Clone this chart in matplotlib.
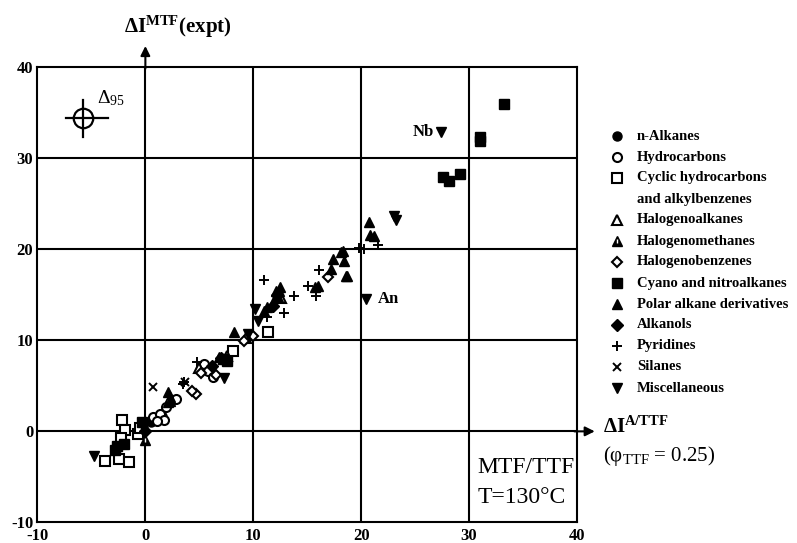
import matplotlib.pyplot as plt

plt.rcParams["font.family"] = ["Liberation Serif", "DejaVu Serif"]
plt.rcParams["mathtext.fontset"] = "custom"
plt.rcParams["mathtext.rm"] = "Liberation Serif"
plt.rcParams["mathtext.it"] = "Liberation Serif:italic"
plt.rcParams["mathtext.bf"] = "Liberation Serif:bold"
plt.rcParams["axes.unicode_minus"] = False

# data: (x = dI A/TTF, y = dI MTF expt)
alkanes_x = [0.5, 1.0, 1.5, -0.2]
alkanes_y = [1.0, 1.3, 1.7, 0.4]
hydro_x = [0.7, 1.4, 1.7, 1.9, 5.4, 5.8, 6.3, 2.8, 1.1]
hydro_y = [1.6, 1.9, 1.3, 2.7, 7.4, 6.6, 6.0, 3.5, 1.1]
cyclic_x = [-2.2, -1.9, -2.3, -0.7, -3.7, -2.4, -1.5, 8.1, 11.4, -0.5]
cyclic_y = [1.2, 0.1, -0.7, -0.3, -3.3, -3.0, -3.4, 8.8, 10.9, 0.4]
haloalk_x = [5.0, 7.6, 9.3, 12.6]
haloalk_y = [6.9, 8.3, 10.3, 14.6]
halometh_x = [2.1, 2.3, 0.0, 6.8, 12.4]
halometh_y = [3.2, 3.8, -0.9, 8.2, 15.4]
halobenz_x = [4.7, 4.3, 9.1, 16.9, 6.5, 10.0, 5.2]
halobenz_y = [4.1, 4.4, 9.9, 16.9, 6.2, 10.5, 6.4]
cyano_x = [33.2, 31.0, 31.0, 27.6, 28.1, 29.2, -2.6, -2.0, -2.8, -0.3, 7.2, 7.6]
cyano_y = [35.9, 31.9, 32.3, 27.9, 27.5, 28.2, -1.6, -1.4, -2.0, 1.0, 7.9, 7.7]
polar_x = [8.2, 12.1, 12.3, 11.8, 11.3, 11.0, 15.7, 16.0, 18.1, 18.7, 18.3,
           17.4, 18.4, 17.2, 18.6, 20.7, 20.8, 21.2, 2.1, 2.3, 12.5]
polar_y = [10.9, 15.4, 14.8, 14.2, 13.6, 13.2, 15.8, 15.9, 19.7, 17.0, 19.8,
           18.9, 18.7, 17.8, 17.0, 23.0, 21.6, 21.4, 4.3, 3.3, 15.8]
alkanol_x = [7.0, 0.0, 11.8, 12.2, 6.2]
alkanol_y = [8.0, 0.0, 13.8, 15.0, 7.2]
pyrid_x = [3.5, 4.8, 3.6, 11.0, 13.8, 15.1, 15.8, 16.1, 11.3, 19.8, 20.3, 21.6, 12.8]
pyrid_y = [5.2, 7.6, 5.4, 16.6, 14.9, 15.9, 14.9, 17.7, 12.5, 20.1, 20.0, 20.5, 13.0]
silane_x = [0.7, 3.7]
silane_y = [4.9, 5.4]
misc_x = [-4.8, 27.4, 20.4, 23.0, 23.2, 10.2, 10.4, 9.5, 7.3, -0.2]
misc_y = [-2.7, 32.9, 14.5, 23.6, 23.2, 13.4, 12.1, 10.7, 5.9, 0.5]

labels = ["n-Alkanes", "Hydrocarbons", "Cyclic hydrocarbons", "and alkylbenzenes",
          "Halogenoalkanes", "Halogenomethanes", "Halogenobenzenes",
          "Cyano and nitroalkanes", "Polar alkane derivatives", "Alkanols",
          "Pyridines", "Silanes", "Miscellaneous"]

ticks = [-10, 0, 10, 20, 30, 40]
grid_vals = [10, 20, 30]

# (marker, filled, size) per series, legend row order
STYLES = [
    ("o", True, 6.5), ("o", False, 6.5), ("s", False, 7), (None, None, None),
    ("^", False, 7), ("^", True, 7), ("D", False, 5.5),
    ("s", True, 7), ("^", True, 7), ("D", True, 6),
    ("+", None, 7.5), ("x", None, 6), ("v", True, 7),
]
SERIES = [(alkanes_x, alkanes_y), (hydro_x, hydro_y), (cyclic_x, cyclic_y), None,
          (haloalk_x, haloalk_y), (halometh_x, halometh_y), (halobenz_x, halobenz_y),
          (cyano_x, cyano_y), (polar_x, polar_y), (alkanol_x, alkanol_y),
          (pyrid_x, pyrid_y), (silane_x, silane_y), (misc_x, misc_y)]


def draw(ax, x, y, style, white_line=False):
    m, filled, ms = style
    if filled is None:
        ax.plot(x, y, m, color="black", ms=ms, mew=1.4, clip_on=False)
    elif filled:
        ax.plot(x, y, m, color="black", mfc="black", ms=ms, mew=1.0, clip_on=False)
    else:
        ax.plot(x, y, m, color="black", mfc="white", ms=ms, mew=1.5, clip_on=False)
    if white_line:
        ax.plot(x, y, "|", color="white", ms=ms * 0.45, mew=1.0, clip_on=False)


fig = plt.figure(figsize=(7.97, 5.43), dpi=100)
ax = fig.add_axes([0.047, 0.0378, 0.677, 0.839])
ax.set_xlim(-10, 40)
ax.set_ylim(-10, 40)

for v in grid_vals:
    ax.axvline(v, color="black", lw=1.5, zorder=1)
    ax.axhline(v, color="black", lw=1.5, zorder=1)
ax.axhline(0, color="black", lw=1.5, zorder=1)
ax.axvline(0, color="black", lw=1.5, zorder=1)
for s in ax.spines.values():
    s.set_linewidth(1.5)

ax.annotate("", xy=(0, 42.6), xytext=(0, 39.5), annotation_clip=False,
            arrowprops=dict(arrowstyle="-|>", color="black", lw=1.5, mutation_scale=14))
ax.annotate("", xy=(41.9, 0), xytext=(39.5, 0), annotation_clip=False,
            arrowprops=dict(arrowstyle="-|>", color="black", lw=1.5, mutation_scale=14))

ax.set_xticks(ticks)
ax.set_yticks(ticks)
ax.tick_params(length=0, labelsize=12)
ax.tick_params(axis="x", pad=4)
ax.tick_params(axis="y", pad=3)
for t in ax.get_xticklabels() + ax.get_yticklabels():
    t.set_fontweight("bold")

for i, ser in enumerate(SERIES):
    if ser is None:
        continue
    draw(ax, ser[0], ser[1], STYLES[i], white_line=(i == 5))

ax.text(26.7, 32.9, "Nb", ha="right", va="center", fontsize=12, fontweight="bold")
ax.text(21.5, 14.5, "An", ha="left", va="center", fontsize=12, fontweight="bold")

# delta-95 symbol
ax.plot([-5.8], [34.4], "o", ms=14, mfc="none", mec="black", mew=1.6, clip_on=False)
ax.plot([-7.4, -3.5], [34.4, 34.4], color="black", lw=1.6)
ax.plot([-5.8, -5.8], [32.3, 36.4], color="black", lw=1.6)
ax.text(-4.5, 36.6, r"$\Delta_{95}$", fontsize=14, ha="left", va="center")

ax.text(30.8, -4.0, "MTF/TTF", fontsize=17, ha="left", va="center")
ax.text(30.8, -7.3, "T=130°C", fontsize=17, ha="left", va="center")

fig.text(178 / 797, 1 - 27 / 543, r"$\mathbf{\Delta I^{MTF}(expt)}$", fontsize=15,
         ha="center", va="center")
fig.text(603 / 797, 1 - 427 / 543, r"$\mathbf{\Delta I^{A/TTF}}$", fontsize=15,
         ha="left", va="center")
fig.text(603 / 797, 1 - 456 / 543, r"($\mathrm{\varphi_{TTF}}$ = 0.25)", fontsize=15,
         ha="left", va="center")

# legend
lax = fig.add_axes([0, 0, 1, 1])
lax.set_xlim(0, 797)
lax.set_ylim(543, 0)
lax.axis("off")
for i, lab in enumerate(labels):
    yy = 136 + 21 * i
    if STYLES[i][0] is not None:
        draw(lax, [617], [yy], STYLES[i], white_line=(i == 5))
    lax.text(637, yy, lab, fontsize=10.5, fontweight="bold", ha="left", va="center")

fig.savefig("out.png", dpi=100)
